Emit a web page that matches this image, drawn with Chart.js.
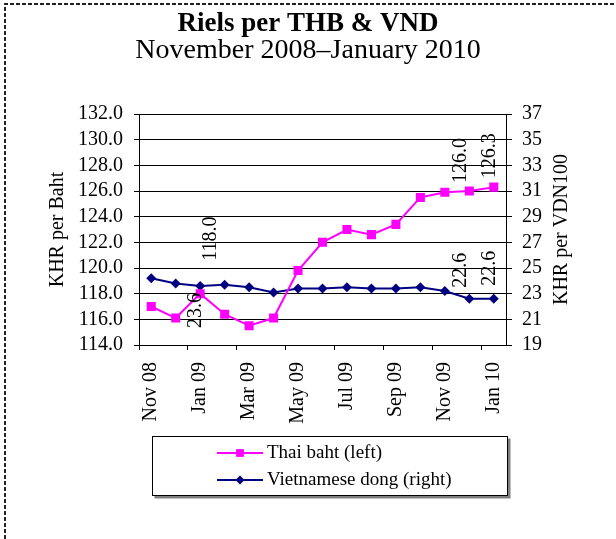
<!DOCTYPE html>
<html>
<head>
<meta charset="utf-8">
<title>Riels per THB &amp; VND</title>
<script src="https://cdn.jsdelivr.net/npm/chart.js"></script>
<style>
  html, body { margin: 0; padding: 0; background: #fff; }
  canvas { display: block; }
</style>
</head>
<body>
<canvas id="chart" width="616" height="539"></canvas>
<script>
const months = ['Nov 08', 'Dec 08', 'Jan 09', 'Feb 09', 'Mar 09', 'Apr 09', 'May 09', 'Jun 09',
  'Jul 09', 'Aug 09', 'Sep 09', 'Oct 09', 'Nov 09', 'Dec 09', 'Jan 10'];
const bahtRates = [117.0, 116.1, 118.0, 116.4, 115.5, 116.1, 119.8, 122.0, 123.0, 122.6, 123.4, 125.5, 125.9, 126.0, 126.3];
const dongRates = [24.2, 23.8, 23.6, 23.7, 23.5, 23.1, 23.4, 23.4, 23.5, 23.4, 23.4, 23.5, 23.2, 22.6, 22.6];
const bahtRange = [114, 132];
const dongRange = [19, 37];
const tickStep = 2;
// [series, index] of the points that carry a value label
const labelledPoints = [[0, 2], [1, 2], [0, 13], [0, 14], [1, 13], [1, 14]];

const FONT = "'Liberation Serif', 'Times New Roman', serif";
const PINK = '#FF00FF';
const NAVY = '#000080';

// offsets of each value label from its point: dx, gap, side
const labelPlacement = [
  { dx: 11, gap: 33, side: 'above' },
  { dx: -4, gap: 7, side: 'below' },
  { dx: -9, gap: 8, side: 'above' },
  { dx: -4, gap: 9, side: 'above' },
  { dx: -9, gap: 11, side: 'above' },
  { dx: -4, gap: 13, side: 'above' }
];

const drawMarker = (ctx, style, x, y, r, color) => {
  ctx.fillStyle = color;
  ctx.beginPath();
  if (style === 'rect') {
    const s = Math.SQRT1_2 * r;
    ctx.rect(x - s, y - s, 2 * s, 2 * s);
  } else {
    ctx.moveTo(x - r, y);
    ctx.lineTo(x, y - r);
    ctx.lineTo(x + r, y);
    ctx.lineTo(x, y + r);
    ctx.closePath();
  }
  ctx.fill();
};

const extras = {
  id: 'extras',
  afterDatasetsDraw(chart) {
    const ctx = chart.ctx;
    ctx.save();
    ctx.font = '20px ' + FONT;
    ctx.fillStyle = '#000';
    ctx.textBaseline = 'middle';
    labelledPoints.forEach(([series, index], n) => {
      const pt = chart.getDatasetMeta(series).data[index];
      const value = chart.data.datasets[series].data[index];
      const place = labelPlacement[n];
      ctx.save();
      if (place.side === 'above') {
        ctx.translate(pt.x + place.dx, pt.y - place.gap);
        ctx.textAlign = 'left';
      } else {
        ctx.translate(pt.x + place.dx, pt.y + place.gap);
        ctx.textAlign = 'right';
      }
      ctx.rotate(-Math.PI / 2);
      ctx.fillText(value.toFixed(1), 0, 0);
      ctx.restore();
    });
    ctx.restore();
  },
  afterDraw(chart) {
    const ctx = chart.ctx;
    const area = chart.chartArea;
    ctx.save();

    // dashed outer frame
    ctx.strokeStyle = '#222';
    ctx.lineWidth = 2;
    ctx.setLineDash([4, 2]);
    ctx.beginPath();
    ctx.moveTo(5, 539);
    ctx.lineTo(5, 4);
    ctx.lineTo(616, 4);
    ctx.stroke();
    ctx.setLineDash([]);

    // right axis title, reading upwards
    ctx.save();
    ctx.translate(562, (area.top + area.bottom) / 2);
    ctx.rotate(-Math.PI / 2);
    ctx.font = '20px ' + FONT;
    ctx.fillStyle = '#000';
    ctx.textAlign = 'center';
    ctx.textBaseline = 'middle';
    ctx.fillText('KHR per VDN100', 0, 0);
    ctx.restore();

    // legend box
    const box = { x: 152.5, y: 436.5, w: 355, h: 59 };
    ctx.fillStyle = '#808080';
    ctx.fillRect(box.x + 2, box.y + 2, box.w + 1, box.h + 1);
    ctx.fillStyle = '#fff';
    ctx.fillRect(box.x, box.y, box.w, box.h);
    ctx.strokeStyle = '#000';
    ctx.lineWidth = 1;
    ctx.strokeRect(box.x, box.y, box.w, box.h);

    ctx.font = '19px ' + FONT;
    ctx.textAlign = 'left';
    ctx.textBaseline = 'middle';
    chart.data.datasets.forEach((ds, i) => {
      const y = 453 + i * 27;
      ctx.strokeStyle = ds.borderColor;
      ctx.lineWidth = 2;
      ctx.beginPath();
      ctx.moveTo(217, y);
      ctx.lineTo(263, y);
      ctx.stroke();
      drawMarker(ctx, ds.pointStyle, 240, y, ds.pointStyle === 'rect' ? 5.5 : 4.5, ds.borderColor);
      ctx.fillStyle = '#000';
      ctx.fillText(ds.label, 267, y);
    });

    ctx.restore();
  }
};

new Chart(document.getElementById('chart'), {
  type: 'line',
  data: {
    labels: months,
    datasets: [
      {
        label: 'Thai baht (left)',
        data: bahtRates,
        yAxisID: 'yBaht',
        borderColor: PINK,
        backgroundColor: PINK,
        borderWidth: 2,
        pointStyle: 'rect',
        pointRadius: 6.4,
        pointBorderWidth: 0,
        tension: 0
      },
      {
        label: 'Vietnamese dong (right)',
        data: dongRates,
        yAxisID: 'yDong',
        borderColor: NAVY,
        backgroundColor: NAVY,
        borderWidth: 2,
        pointStyle: 'rectRot',
        pointRadius: 5,
        pointBorderWidth: 0,
        tension: 0
      }
    ]
  },
  options: {
    responsive: false,
    animation: false,
    layout: { padding: 0 },
    plugins: {
      legend: { display: false },
      tooltip: { enabled: false },
      title: {
        display: true,
        text: 'Riels per THB & VND',
        color: '#000',
        font: { family: FONT, size: 27, weight: 'bold', lineHeight: 1 },
        padding: { top: 11, bottom: -1 }
      },
      subtitle: {
        display: true,
        text: 'November 2008\u2013January 2010',
        color: '#000',
        font: { family: FONT, size: 28, lineHeight: 1 },
        padding: { top: 0, bottom: 49 }
      }
    },
    scales: {
      x: {
        offset: true,
        afterFit: (scale) => { scale.height = 194; },
        grid: {
          offset: true,
          drawOnChartArea: false,
          tickLength: 5,
          tickColor: (c) => (c.index % 2 === 0 ? '#000' : 'rgba(0,0,0,0)')
        },
        border: { color: '#000', width: 1 },
        ticks: {
          autoSkip: false,
          maxRotation: 90,
          minRotation: 90,
          padding: 12,
          color: '#000',
          font: { family: FONT, size: 20 },
          callback: (value, index) => (index % 2 === 0 ? months[index] : '')
        }
      },
      yBaht: {
        position: 'left',
        min: bahtRange[0],
        max: bahtRange[1],
        afterFit: (scale) => { scale.width = 139; },
        grid: { color: '#000', tickLength: 5 },
        border: { color: '#000', width: 1 },
        ticks: {
          autoSkip: false,
          stepSize: tickStep,
          padding: 11,
          color: '#000',
          font: { family: FONT, size: 20 },
          callback: (v) => v.toFixed(1)
        },
        title: {
          display: true,
          text: 'KHR per Baht',
          color: '#000',
          font: { family: FONT, size: 20, lineHeight: 1 },
          padding: { top: 48, bottom: 0 }
        }
      },
      yDong: {
        position: 'right',
        min: dongRange[0],
        max: dongRange[1],
        afterFit: (scale) => { scale.width = 110; },
        grid: { drawOnChartArea: false, color: '#000', tickLength: 6 },
        border: { color: '#000', width: 1 },
        ticks: {
          autoSkip: false,
          stepSize: tickStep,
          padding: 10,
          color: '#000',
          font: { family: FONT, size: 20 }
        }
      }
    }
  },
  plugins: [extras]
});
</script>
</body>
</html>
